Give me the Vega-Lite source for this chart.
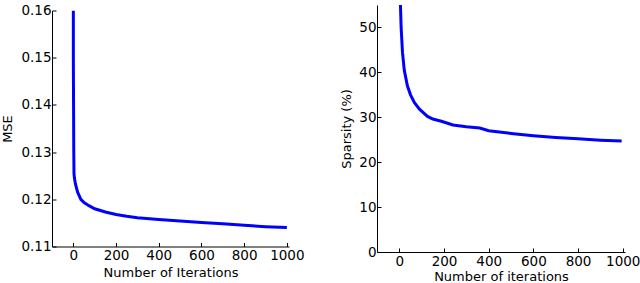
{
  "$schema": "https://vega.github.io/schema/vega-lite/v6.json",
  "padding": {"left": 1, "top": 3, "right": 0, "bottom": 0},
  "spacing": 88,
  "bounds": "flush",
  "center": true,
  "config": {
    "font": "DejaVu Sans",
    "view": {"stroke": null},
    "axis": {
      "grid": false,
      "domainColor": "#000000",
      "tickColor": "#000000",
      "labelColor": "#000000",
      "titleColor": "#000000",
      "labelFont": "DejaVu Sans",
      "titleFont": "DejaVu Sans",
      "labelFontSize": 13.5,
      "titleFontSize": 13,
      "titleFontWeight": "normal",
      "tickSize": -4,
      "domainWidth": 1
    },
    "axisX": {"labelPadding": 6, "titlePadding": 4},
    "axisY": {"labelPadding": 5}
  },
  "datasets": {
    "mse": [
      {"iter": 0, "v": 0.160}, {"iter": 0, "v": 0.150}, {"iter": 1, "v": 0.140}, {"iter": 2, "v": 0.130},
      {"iter": 3, "v": 0.1255}, {"iter": 5, "v": 0.1245}, {"iter": 10, "v": 0.1232}, {"iter": 20, "v": 0.1215},
      {"iter": 35, "v": 0.1200}, {"iter": 50, "v": 0.1193}, {"iter": 75, "v": 0.1186}, {"iter": 100, "v": 0.1180},
      {"iter": 150, "v": 0.1173}, {"iter": 200, "v": 0.1168}, {"iter": 250, "v": 0.1164}, {"iter": 300, "v": 0.1161},
      {"iter": 400, "v": 0.1157}, {"iter": 500, "v": 0.1154}, {"iter": 600, "v": 0.1151}, {"iter": 700, "v": 0.1148},
      {"iter": 800, "v": 0.1145}, {"iter": 900, "v": 0.1142}, {"iter": 1000, "v": 0.1140}
    ],
    "sparsity": [
      {"iter": 3, "v": 60}, {"iter": 5, "v": 55}, {"iter": 8, "v": 50}, {"iter": 14, "v": 44.5},
      {"iter": 22, "v": 40.5}, {"iter": 36, "v": 37}, {"iter": 50, "v": 35}, {"iter": 67, "v": 33.3},
      {"iter": 90, "v": 31.8}, {"iter": 126, "v": 30.2}, {"iter": 150, "v": 29.6}, {"iter": 188, "v": 29.1},
      {"iter": 240, "v": 28.3}, {"iter": 300, "v": 27.9}, {"iter": 360, "v": 27.6}, {"iter": 400, "v": 27.0},
      {"iter": 500, "v": 26.4}, {"iter": 600, "v": 25.9}, {"iter": 700, "v": 25.5}, {"iter": 800, "v": 25.2},
      {"iter": 900, "v": 24.9}, {"iter": 995, "v": 24.7}
    ]
  },
  "hconcat": [
    {
      "width": 237,
      "height": 236,
      "data": {"name": "mse"},
      "mark": {"type": "line", "color": "#0000ff", "strokeWidth": 3, "clip": true},
      "encoding": {
        "x": {"field": "iter", "type": "quantitative", "title": "Number of Iterations",
              "scale": {"domain": [-100, 1010], "nice": false, "zero": false},
              "axis": {"values": [0, 200, 400, 600, 800, 1000], "format": "d"}},
        "y": {"field": "v", "type": "quantitative", "title": "MSE",
              "scale": {"domain": [0.11, 0.16], "nice": false, "zero": false},
              "axis": {"values": [0.11, 0.12, 0.13, 0.14, 0.15, 0.16], "format": ".2f", "titlePadding": 6}}
      }
    },
    {
      "width": 248,
      "height": 247,
      "data": {"name": "sparsity"},
      "mark": {"type": "line", "color": "#0000ff", "strokeWidth": 3, "clip": true},
      "encoding": {
        "x": {"field": "iter", "type": "quantitative", "title": "Number of iterations",
              "scale": {"domain": [-100, 1010], "nice": false, "zero": false},
              "axis": {"values": [0, 200, 400, 600, 800, 1000], "format": "d", "titlePadding": 3}},
        "y": {"field": "v", "type": "quantitative", "title": "Sparsity (%)",
              "scale": {"domain": [0, 55], "nice": false, "zero": false},
              "axis": {"values": [0, 10, 20, 30, 40, 50], "format": "d", "titlePadding": 5}}
      }
    }
  ]
}
